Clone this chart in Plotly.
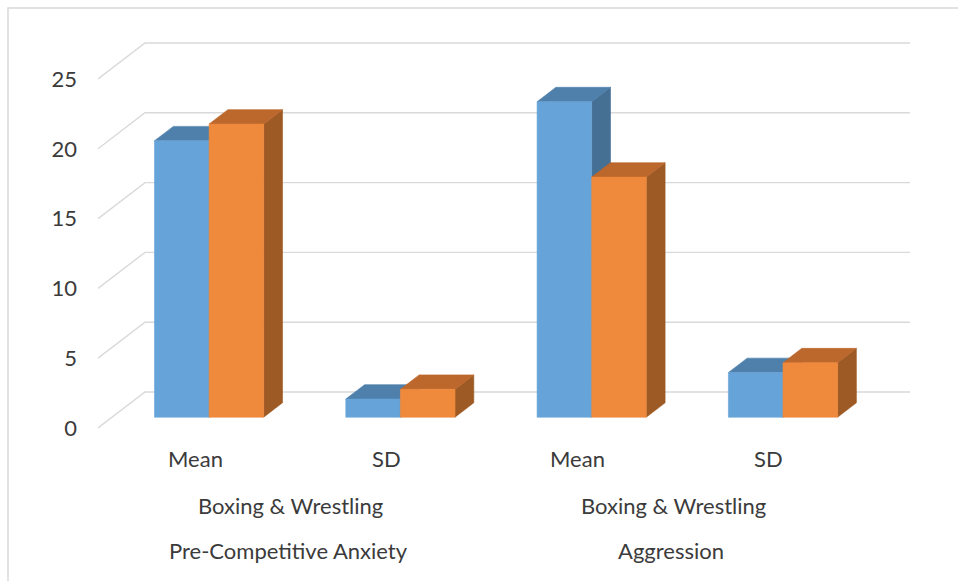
import plotly.graph_objects as go

# ---- data -------------------------------------------------------------
categories = ["Mean", "SD", "Mean", "SD"]
group_sport = ["Boxing & Wrestling", "Boxing & Wrestling"]
group_measure = ["Pre-Competitive Anxiety", "Aggression"]
series_blue = [19.8, 1.3, 22.6, 3.2]
series_orange = [21.0, 2.0, 17.2, 3.9]
y_ticks = [0, 5, 10, 15, 20, 25]

# ---- geometry of the pseudo-3D frame (pixels) ----------------------------
W, H = 958, 581
PL, PT, PR, PB = 98, 8, 958, 440        # plot area edges
Y0 = 428                                 # front-plane zero line
S = 13.96                                # pixels per value unit
X0, C = 195, 191.3                       # first category centre, category pitch
DX, DY = 47, 36                          # full floor depth offset
GRID_RIGHT = 910
BAR_W_PX = 54.6
D_FRONT, D_BACK = 0.3, 0.7               # bar depth band (fraction of floor)

xr = [(PL - X0) / C, (PR - X0) / C]
yr = [(Y0 - PB) / S, (Y0 - PT) / S]
dxd, dyd = DX / C, DY / S
bw = BAR_W_PX / C
grid_end = (GRID_RIGHT - X0) / C


def paper_y(px):
    return (PB - px) / (PB - PT)


series = [
    (series_blue, 0, {"front": "#66A3D9", "top": "#4E80AB", "side": "#456F93"}),
    (series_orange, 1, {"front": "#EF893B", "top": "#BC672B", "side": "#9D5A24"}),
]

fig = go.Figure()

# back wall gridlines with their floor-side diagonal
for v in y_ticks:
    fig.add_trace(go.Scatter(
        x=[xr[0], xr[0] + dxd, grid_end],
        y=[v, v + dyd, v + dyd],
        mode="lines", line=dict(color="#D9D9D9", width=1.4),
        hoverinfo="skip", showlegend=False,
    ))


def poly(xs, ys, color):
    fig.add_trace(go.Scatter(
        x=xs + [xs[0]], y=ys + [ys[0]], mode="lines", fill="toself",
        fillcolor=color, line=dict(color=color, width=0.6),
        hoverinfo="skip", showlegend=False,
    ))


fx, fy = D_FRONT * dxd, D_FRONT * dyd
ddx, ddy = (D_BACK - D_FRONT) * dxd, (D_BACK - D_FRONT) * dyd

for i in range(len(categories)):
    for vals, k, col in series:
        v = vals[i]
        x_l = i - bw + k * bw + fx
        x_r = x_l + bw
        base, top = fy, v + fy
        # right side face
        poly([x_r, x_r + ddx, x_r + ddx, x_r],
             [base, base + ddy, top + ddy, top], col["side"])
        # top face
        poly([x_l, x_r, x_r + ddx, x_l + ddx],
             [top, top, top + ddy, top + ddy], col["top"])
        # front face
        poly([x_l, x_r, x_r, x_l], [base, base, top, top], col["front"])

FONT = dict(family="Lato, 'Open Sans', sans-serif", size=22, color="#3B3B3B")

ann = []
for i, c in enumerate(categories):
    ann.append(dict(x=i, y=paper_y(459), xref="x", yref="paper", text=c,
                    showarrow=False, font=FONT, xanchor="center", yanchor="middle"))
for g in range(len(group_sport)):
    xc = 2 * g + 0.5
    ann.append(dict(x=xc, y=paper_y(505), xref="x", yref="paper", text=group_sport[g],
                    showarrow=False, font=FONT, xanchor="center", yanchor="middle"))
    ann.append(dict(x=xc - 0.01, y=paper_y(550), xref="x", yref="paper", text=group_measure[g],
                    showarrow=False, font=FONT, xanchor="center", yanchor="middle"))

fig.update_layout(
    width=W, height=H,
    margin=dict(l=PL, r=W - PR, t=PT, b=H - PB, pad=0),
    paper_bgcolor="white", plot_bgcolor="white",
    showlegend=False,
    annotations=ann,
    xaxis=dict(range=xr, showgrid=False, zeroline=False, showticklabels=False,
               showline=False, ticks="", fixedrange=True),
    yaxis=dict(range=yr, tickvals=y_ticks, ticktext=[str(t) for t in y_ticks],
               showgrid=False, zeroline=False, showline=False, ticks="",
               ticklabelstandoff=20, tickfont=FONT, fixedrange=True),
    shapes=[dict(type="rect", xref="paper", yref="paper",
                 x0=(8 - PL) / (PR - PL), x1=1.2, y0=-0.6, y1=1.0,
                 line=dict(color="#D9D9D9", width=1.5), fillcolor="rgba(0,0,0,0)",
                 layer="below")],
)

fig.write_html("out.html")
